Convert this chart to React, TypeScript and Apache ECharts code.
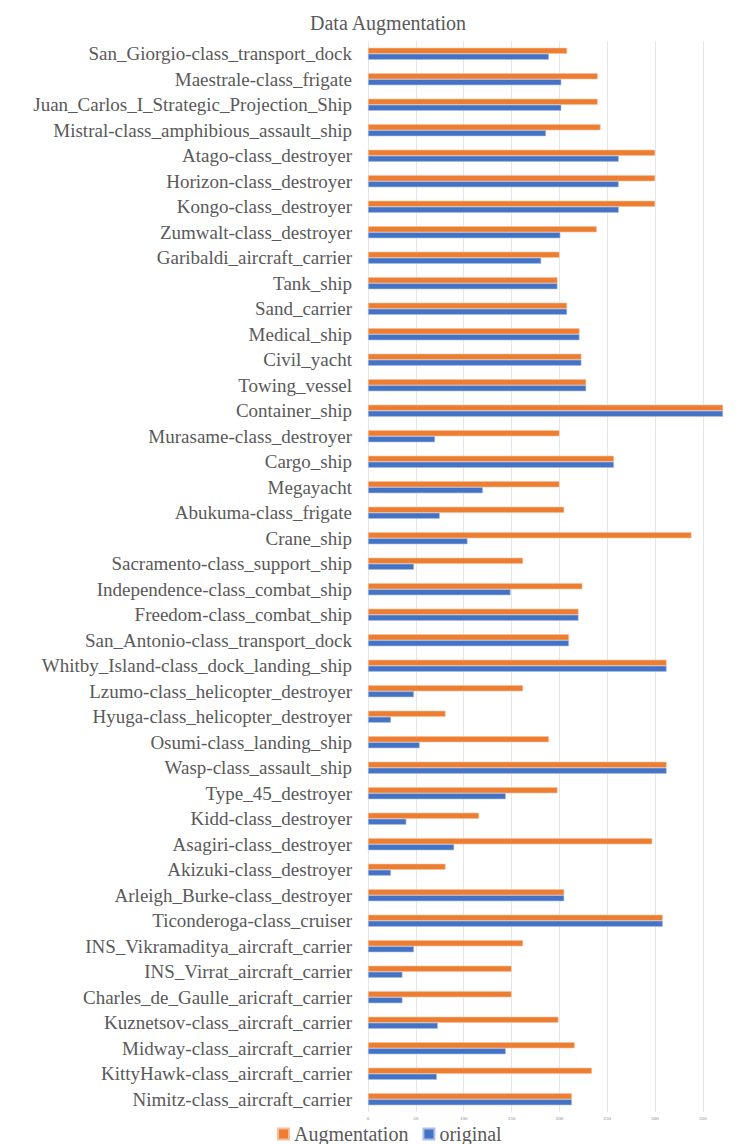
import React, { useEffect, useRef } from "react";
import * as echarts from "echarts";

const categories = [
  "San_Giorgio-class_transport_dock",
  "Maestrale-class_frigate",
  "Juan_Carlos_I_Strategic_Projection_Ship",
  "Mistral-class_amphibious_assault_ship",
  "Atago-class_destroyer",
  "Horizon-class_destroyer",
  "Kongo-class_destroyer",
  "Zumwalt-class_destroyer",
  "Garibaldi_aircraft_carrier",
  "Tank_ship",
  "Sand_carrier",
  "Medical_ship",
  "Civil_yacht",
  "Towing_vessel",
  "Container_ship",
  "Murasame-class_destroyer",
  "Cargo_ship",
  "Megayacht",
  "Abukuma-class_frigate",
  "Crane_ship",
  "Sacramento-class_support_ship",
  "Independence-class_combat_ship",
  "Freedom-class_combat_ship",
  "San_Antonio-class_transport_dock",
  "Whitby_Island-class_dock_landing_ship",
  "Lzumo-class_helicopter_destroyer",
  "Hyuga-class_helicopter_destroyer",
  "Osumi-class_landing_ship",
  "Wasp-class_assault_ship",
  "Type_45_destroyer",
  "Kidd-class_destroyer",
  "Asagiri-class_destroyer",
  "Akizuki-class_destroyer",
  "Arleigh_Burke-class_destroyer",
  "Ticonderoga-class_cruiser",
  "INS_Vikramaditya_aircraft_carrier",
  "INS_Virrat_aircraft_carrier",
  "Charles_de_Gaulle_aricraft_carrier",
  "Kuznetsov-class_aircraft_carrier",
  "Midway-class_aircraft_carrier",
  "KittyHawk-class_aircraft_carrier",
  "Nimitz-class_aircraft_carrier",
];

const augmentation = [
  208, 240, 240, 243, 300, 300, 300, 239, 200, 198, 208, 221, 223, 228, 371,
  200, 257, 200, 205, 338, 162, 224, 220, 210, 312, 162, 81, 189, 312, 198,
  116, 297, 81, 205, 308, 162, 150, 150, 199, 216, 234, 213,
];

const original = [
  189, 202, 202, 186, 262, 262, 262, 201, 181, 198, 208, 221, 223, 228, 371,
  70, 257, 120, 75, 104, 48, 149, 220, 210, 312, 48, 24, 54, 312, 144, 40, 90,
  24, 205, 308, 48, 36, 36, 73, 144, 72, 213,
];

const seriesNames = ["Augmentation", "original"];
const xTicks = [0, 50, 100, 150, 200, 250, 300, 350];

export default function App() {
  const ref = useRef<HTMLDivElement>(null);
  useEffect(() => {
    if (!ref.current) return;
    const chart = echarts.init(ref.current, null, { renderer: "svg" });
    const font = "'Liberation Serif', 'Times New Roman', serif";
    chart.setOption({
      animation: false,
      backgroundColor: "#ffffff",
      title: {
        text: "Data Augmentation",
        left: 305,
        top: 8,
        textStyle: {
          fontFamily: font,
          fontSize: 20,
          fontWeight: "normal",
          color: "#595959",
        },
      },
      legend: {
        data: seriesNames,
        left: 272,
        top: 1119,
        itemWidth: 11,
        itemHeight: 11,
        itemGap: 14,
        icon: "rect",
        textStyle: { fontFamily: font, fontSize: 20, color: "#595959" },
      },
      grid: { left: 368, right: 21, top: 41, bottom: 32, containLabel: false },
      xAxis: {
        type: "value",
        min: 0,
        max: 372,
        interval: 50,
        axisLine: { show: false },
        axisTick: { show: false },
        axisLabel: {
          fontFamily: font,
          fontSize: 5,
          color: "#808080",
          margin: 4,
          showMaxLabel: false,
          formatter: (v: number) => (xTicks.includes(v) ? String(v) : ""),
        },
        splitLine: {
          show: true,
          showMaxLine: false,
          lineStyle: { color: "#e6e6e6", width: 1 },
        },
      },
      yAxis: {
        type: "category",
        inverse: true,
        data: categories,
        axisLine: { show: false },
        axisTick: { show: false },
        axisLabel: {
          interval: 0,
          fontFamily: font,
          fontSize: 19,
          color: "#595959",
          margin: 16,
        },
      },
      series: [
        {
          name: seriesNames[0],
          type: "bar",
          data: augmentation,
          barWidth: 6,
          barGap: "0%",
          itemStyle: { color: "#ED7D31", borderColor: "#F6BE98", borderWidth: 0.6 },
        },
        {
          name: seriesNames[1],
          type: "bar",
          data: original,
          barWidth: 6,
          barGap: "0%",
          itemStyle: { color: "#4472C4", borderColor: "#A9BFE6", borderWidth: 0.6 },
        },
      ],
    });
    return () => chart.dispose();
  }, []);
  return (
    <div
      ref={ref}
      style={{ position: "absolute", left: 0, top: 0, width: 745, height: 1144 }}
    />
  );
}
